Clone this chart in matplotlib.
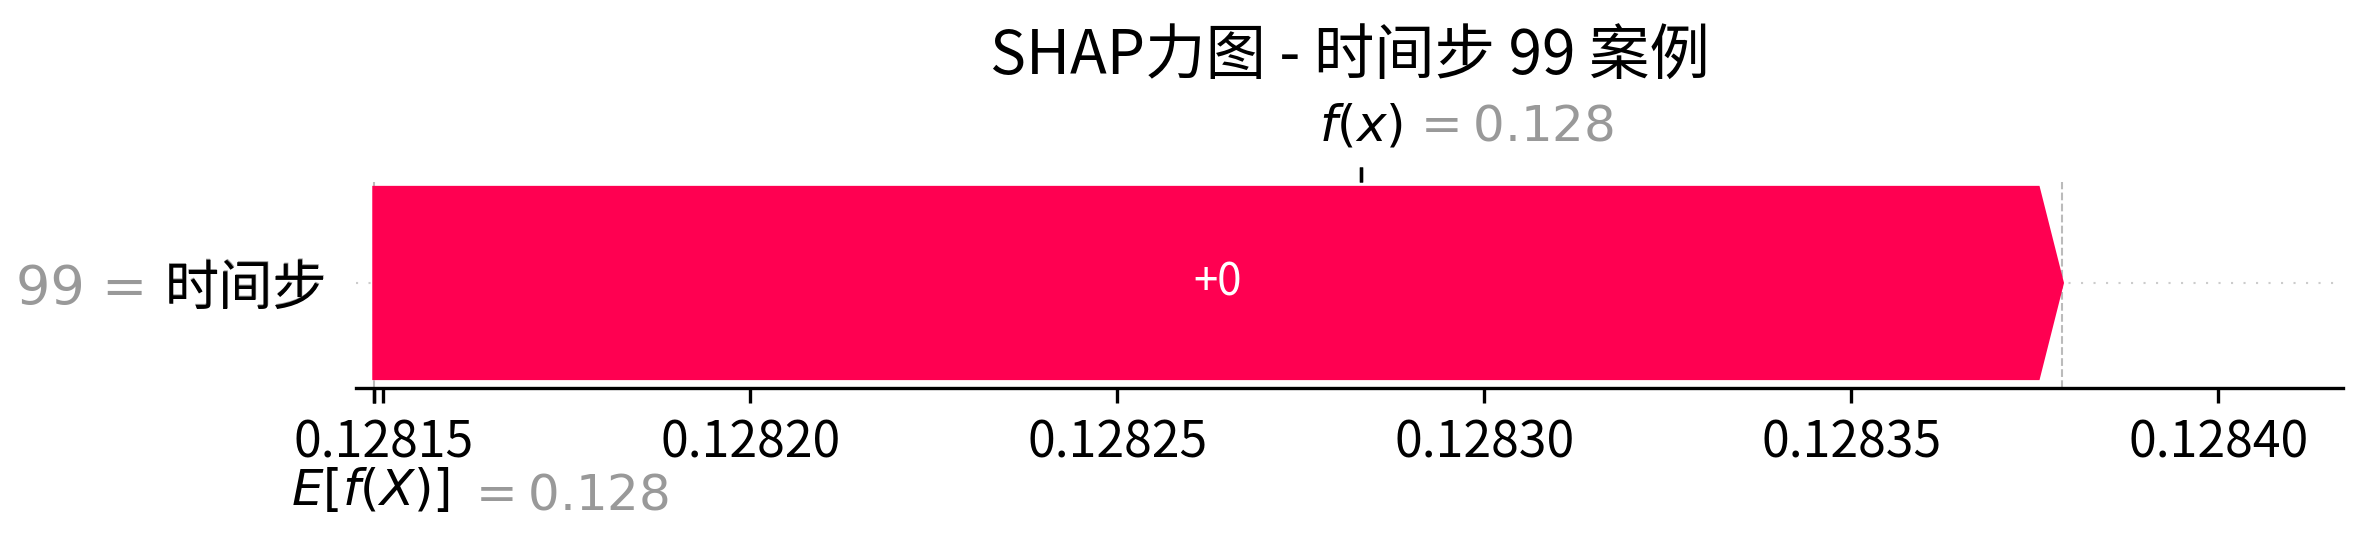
import matplotlib
matplotlib.use("Agg")
import matplotlib.pyplot as plt
import matplotlib.transforms as mtransforms

plt.rcParams['font.family'] = ['Noto Sans CJK SC', 'DejaVu Sans']
plt.rcParams['axes.unicode_minus'] = False

# values
feature_names = ['时间步']
feature_values = ['99']
base_value = 0.1281488
shap_values = [0.0002299]
fx_tick = 0.1282832          # where the f(x) mark sits in the picture
xtick_values = [0.12815, 0.12820, 0.12825, 0.12830, 0.12835, 0.12840]
xtick_labels = ['0.12815', '0.12820', '0.12825', '0.12830', '0.12835', '0.12840']
x_limits = (0.1281463, 0.1284170)
title = 'SHAP力图 - 时间步 99 案例'


def format_value(v, fmt):
    s = fmt % v
    if '.' in s:
        s = s.rstrip('0').rstrip('.')
    return s


W, H, DPI = 2370, 544, 300
fig = plt.figure(figsize=(W / DPI, H / DPI), dpi=DPI)
ax = fig.add_axes([356 / W, 1 - 388 / H, (2343 - 356) / W, (388 - 182) / H])
ax.set_xlim(*x_limits)
ax.set_ylim(-0.442, 0.425)

red = '#ff0051'
bar_width = 0.8
bbox = ax.get_window_extent().transformed(fig.dpi_scale_trans.inverted())
hl = 0.08 * (x_limits[1] - x_limits[0]) / bbox.width

left = base_value
for i, v in enumerate(shap_values):
    ax.arrow(left, i, max(v - hl, 1e-9), 0, head_length=min(v, hl),
             color=red, width=bar_width, head_width=bar_width)
    ax.text(left + v / 2, i, format_value(v, '%+0.02f'), ha='center', va='center',
            color='white', fontsize=10.5)
    ax.axhline(i, color='#cccccc', lw=0.5, dashes=(1, 5), zorder=-1)
    left += v

fx = base_value + sum(shap_values)
ax.axvline(base_value, 0, 1, color='#bbbbbb', linestyle='--', linewidth=0.5, zorder=-1)
ax.axvline(fx, 0, 1, color='#bbbbbb', linestyle='--', linewidth=0.5, zorder=-1)

# y labels: gray "value = name" with the name again in black on top
n = len(feature_names)
ylabels = [feature_values[i] + ' = ' + feature_names[i] for i in range(n)]
ax.set_yticks(list(range(n)) + [i + 1e-8 for i in range(n)])
ax.set_yticklabels(ylabels + feature_names, fontsize=13)
for t in ax.yaxis.get_majorticklabels()[:n]:
    t.set_color('#999999')
    t.set_family(['DejaVu Sans', 'Noto Sans CJK SC'])
ax.tick_params(axis='y', left=False)

ax.set_xticks(xtick_values)
ax.set_xticklabels(xtick_labels, fontsize=12)
ax.xaxis.set_ticks_position('bottom')
for s in ['top', 'right', 'left']:
    ax.spines[s].set_visible(False)

# E[f(X)] mark
ax2 = ax.twiny()
ax2.set_xlim(*x_limits)
ax2.set_xticks([base_value, base_value + 1e-8])
ax2.set_xticklabels(['\n$E[f(X)]$', '\n$ = ' + format_value(base_value, '%0.03f') + '$'],
                    fontsize=12, ha='left')
ax2.xaxis.tick_bottom()
for s in ax2.spines.values():
    s.set_visible(False)

# f(x) mark
ax3 = ax2.twiny()
ax3.set_xlim(*x_limits)
ax3.set_xticks([fx_tick, fx_tick + 1e-8])
ax3.set_xticklabels(['$f(x)$', '$ = ' + format_value(fx, '%0.03f') + '$'],
                    fontsize=12, ha='left')
for s in ax3.spines.values():
    s.set_visible(False)

tl = ax3.xaxis.get_majorticklabels()
tl[0].set_transform(tl[0].get_transform() + mtransforms.ScaledTranslation(-10 / 72., 0, fig.dpi_scale_trans))
tl[1].set_transform(tl[1].get_transform() + mtransforms.ScaledTranslation(12 / 72., 0, fig.dpi_scale_trans))
tl[1].set_color('#999999')

tl = ax2.xaxis.get_majorticklabels()
tl[0].set_transform(tl[0].get_transform() + mtransforms.ScaledTranslation(-20 / 72., 2.9 / 72., fig.dpi_scale_trans))
tl[1].set_transform(tl[1].get_transform() + mtransforms.ScaledTranslation(22 / 72., 1.9 / 72., fig.dpi_scale_trans))
tl[1].set_color('#999999')

ax.set_title(title, fontsize=14.5, y=1.52, pad=0)

fig.savefig('out.png', dpi=DPI)
